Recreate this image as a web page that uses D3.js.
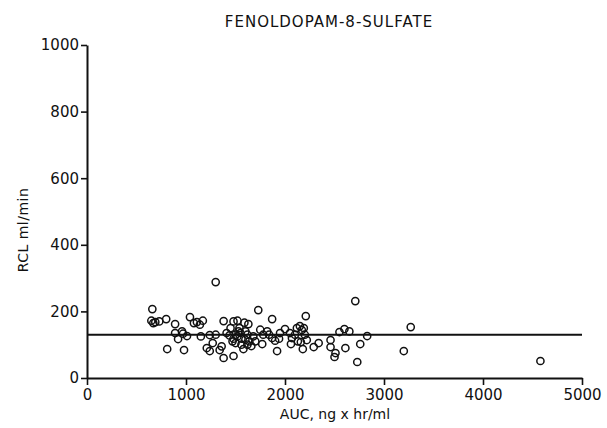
<!DOCTYPE html>
<html>
<head>
<meta charset="utf-8">
<title>Fenoldopam-8-sulfate</title>
<script src="https://d3js.org/d3.v7.min.js"></script>
<style>
  body { margin: 0; background: #fff; }
  text { font-family: "DejaVu Sans", "Liberation Sans", sans-serif; fill: #111; }
</style>
</head>
<body>
<script>
// AUC (ng x hr/ml) and RCL (ml/min)
var auc = [660, 650, 670, 690, 730, 800, 890, 890, 920, 810, 980, 970, 1010, 1040, 1080, 1110,
  1140, 1170, 1240, 1210, 1240, 1270, 1300, 1380, 1380, 1340, 1360, 1480, 1480, 1520, 1590,
  1630, 1410, 1440, 1470, 1500, 1530, 1560, 1600, 1640, 1660, 1580, 1520, 1550, 1620, 1730,
  1870, 1820, 1840, 1870, 1900, 1940, 1770, 1920, 2000, 2060, 2070, 2120, 2150, 2170, 2190,
  2210, 2130, 2160, 2220, 2180, 2290, 2340, 2460, 2460, 2500, 2510, 2550, 2600, 2650, 2610,
  2710, 2760, 2730, 2830, 3270, 3200, 4580,
  1450, 1500, 1560, 1600, 1680, 1700, 1780, 1950, 2100, 2200, 1480, 1620, 1540, 960, 1300,
  1150, 2050, 1750];
var rcl = [207, 172, 165, 168, 170, 177, 162, 135, 117, 87, 84, 133, 126, 183, 165, 168,
  160, 172, 129, 90, 81, 105, 288, 171, 60, 84, 95, 66, 170, 172, 166,
  162, 135, 128, 110, 105, 140, 118, 115, 110, 96, 87, 125, 135, 130, 204,
  177, 140, 130, 120, 112, 118, 102, 81, 147, 102, 120, 150, 156, 144, 150,
  186, 110, 108, 114, 87, 93, 105, 114, 93, 63, 75, 138, 147, 140, 90,
  231, 102, 48, 126, 153, 81, 51,
  150, 130, 100, 140, 125, 110, 130, 135, 130, 130, 118, 100, 150, 140, 130,
  125, 135, 145];
var fitRcl = 130;
var xTicks = [0, 1000, 2000, 3000, 4000, 5000];
var yTicks = [0, 200, 400, 600, 800, 1000];

var W = 607, H = 428;
var svg = d3.select("body").append("svg").attr("width", W).attr("height", H);

var x = d3.scaleLinear().domain([0, 5000]).range([87, 582]);
var y = d3.scaleLinear().domain([0, 1000]).range([378, 45]);

function styleAxis(g) {
  g.select(".domain").attr("stroke", "#111").attr("stroke-width", 2);
  g.selectAll(".tick line").attr("stroke", "#111").attr("stroke-width", 1.6);
  g.selectAll("text").attr("font-size", 15).attr("fill", "#111")
    .style("font-family", "DejaVu Sans, sans-serif");
}

// x axis
svg.append("g").attr("transform", "translate(0," + y(0) + ")")
  .call(d3.axisBottom(x).tickValues(xTicks).tickFormat(d3.format("d"))
    .tickSize(7).tickSizeOuter(0).tickPadding(4))
  .call(styleAxis);

// y axis
svg.append("g").attr("transform", "translate(" + x(0) + ",0)")
  .call(d3.axisLeft(y).tickValues(yTicks).tickFormat(d3.format("d"))
    .tickSize(6).tickSizeOuter(0).tickPadding(2))
  .call(styleAxis);

// regression line
svg.append("line")
  .attr("x1", x(0)).attr("x2", x(5000))
  .attr("y1", y(fitRcl)).attr("y2", y(fitRcl))
  .attr("stroke", "#111").attr("stroke-width", 2);

// points
svg.selectAll("circle.pt").data(auc).enter().append("circle")
  .attr("class", "pt")
  .attr("cx", function(d) { return x(d); })
  .attr("cy", function(d, i) { return y(rcl[i]); })
  .attr("r", 3.6)
  .attr("fill", "none").attr("stroke", "#111").attr("stroke-width", 1.5);

// titles
svg.append("text").attr("x", 329).attr("y", 27).attr("text-anchor", "middle")
  .attr("font-size", 15).attr("letter-spacing", 1).text("FENOLDOPAM-8-SULFATE");
svg.append("text").attr("x", 335).attr("y", 419).attr("text-anchor", "middle")
  .attr("font-size", 14).text("AUC, ng x hr/ml");
svg.append("text").attr("transform", "translate(28,230) rotate(-90)")
  .attr("text-anchor", "middle").attr("font-size", 14).attr("letter-spacing", 0.5)
  .text("RCL  ml/min");
</script>
</body>
</html>
